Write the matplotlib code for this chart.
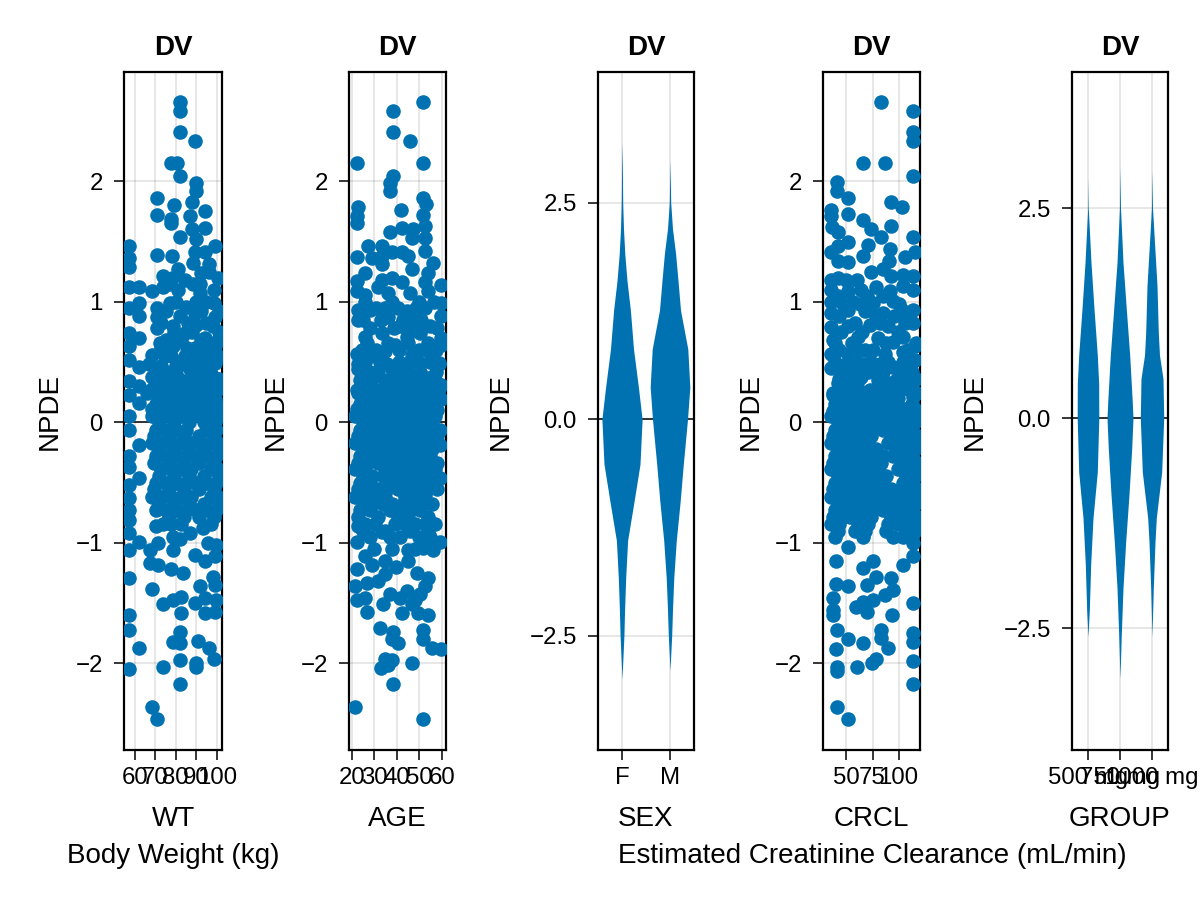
import numpy as np
import matplotlib
matplotlib.use("Agg")
import matplotlib.pyplot as plt

plt.rcParams["font.family"] = ["Liberation Sans", "DejaVu Sans"]

BLUE = "#0072B2"

# ---- scatter data: (covariate, NPDE) pairs ----
wt_pts = [
    (81.9, 2.66), (81.9, 2.58), (81.9, 2.41), (89.2, 2.33), (77.9, 2.15), (80.6, 2.15),
    (81.9, 2.04), (90.0, 1.985), (90.0, 1.92), (70.9, 1.86), (88.0, 1.83), (79.0, 1.80),
    (94.0, 1.75), (70.9, 1.72), (77.9, 1.69), (86.9, 1.71), (77.9, 1.65), (94.0, 1.61),
    (88.0, 1.60), (81.9, 1.54), (90.0, 1.52), (98.9, 1.46), (57.4, 1.46), (57.4, 1.36),
    (57.4, 1.29), (70.9, 1.39), (78.4, 1.38), (89.2, 1.41), (94.0, 1.41), (88.4, 1.32),
    (96.1, 1.31), (73.9, 1.21), (81.1, 1.27), (92.4, 1.24), (84.3, 1.18), (88.4, 1.15),
    (96.4, 1.25), (57.4, 1.12), (62.3, 1.12), (68.2, 1.09), (73.9, 1.12), (81.1, 1.10),
    (98.4, 1.10), (91.6, 1.07), (57.4, 0.95), (62.3, 0.99), (70.9, 0.95), (77.1, 0.99),
    (85.1, 0.96), (98.4, 0.99), (62.3, 0.88), (70.9, 0.87), (81.9, 0.88), (89.2, 0.91),
    (98.9, 0.87), (78.7, 0.80), (90.0, 0.81), (98.1, 0.80), (57.4, 0.74), (70.9, 0.78),
    (84.3, 0.74), (62.3, 0.70), (94.0, 0.70), (72.2, 0.66), (57.4, 0.63), (78.7, 0.63),
    (89.2, 0.62), (98.9, 0.63), (68.2, 0.56), (74.7, 0.55), (84.3, 0.55), (93.2, 0.56),
    (57.4, 0.52), (81.9, 0.49), (90.0, 0.52), (98.9, 0.49), (62.3, 0.46), (70.9, 0.44),
    (77.1, 0.42), (86.9, 0.44), (95.6, 0.42), (68.2, 0.38), (57.4, 0.34), (81.9, 0.35),
    (91.6, 0.34), (98.9, 0.37), (62.3, 0.30), (73.9, 0.31), (79.5, 0.29), (86.9, 0.30),
    (96.4, 0.29), (57.4, 0.23), (70.9, 0.23), (84.3, 0.22), (93.2, 0.23), (62.3, 0.16),
    (77.1, 0.16), (90.0, 0.17), (98.9, 0.19), (68.2, 0.11), (73.9, 0.11), (81.9, 0.11),
    (95.6, 0.11), (73.0, 0.20), (80.3, 0.20), (87.6, 0.20), (97.2, 0.20), (75.4, 0.34),
    (85.1, 0.34), (94.8, 0.34), (73.0, 0.47), (80.3, 0.47), (92.4, 0.47),
    (70.6, 0.15), (75.4, 0.15), (85.1, 0.15), (94.8, 0.15), (99.6, 0.15),
    (68.2, 0.28), (77.9, 0.28), (82.7, 0.28), (90.0, 0.28), (100.5, 0.28),
    (73.0, 0.40), (80.3, 0.40), (89.2, 0.40), (97.2, 0.40),
    (77.9, 0.55), (88.0, 0.55), (97.2, 0.55), (100.5, 0.55),
    (75.4, 0.68), (82.7, 0.68), (92.4, 0.68), (100.5, 0.68),
    (73.0, 0.82), (86.0, 0.82), (94.8, 0.82),
    (80.3, 1.00), (90.0, 1.00), (94.8, 1.00), (78.0, 1.20), (100.5, 1.20),
    (76.6, 0.10), (88.0, 0.10), (92.0, 0.10), (101.0, 0.10),
    (66.0, 0.24), (75.4, 0.24), (90.5, 0.24), (95.5, 0.24),
    (71.8, 0.36), (79.1, 0.36), (88.0, 0.36), (101.0, 0.36),
    (67.0, 0.48), (84.0, 0.48), (95.0, 0.48),
    (73.0, 0.62), (85.5, 0.62), (95.0, 0.62),
    (79.0, 0.75), (88.0, 0.75), (101.0, 0.75),
    (75.0, 0.92), (92.5, 0.92), (101.0, 0.92), (76.5, 1.15), (92.0, 1.15),
    # lower half
    (57.4, 0.05), (57.4, -0.06), (62.3, -0.19), (57.4, -0.28), (57.4, -0.37), (62.3, -0.46),
    (57.4, -0.52), (57.4, -0.63), (57.4, -0.73), (57.4, -0.81), (57.4, -0.92), (62.3, -0.99),
    (57.4, -1.06), (57.4, -1.29), (57.4, -1.60), (57.4, -1.72), (62.3, -1.87), (57.4, -2.05),
    (68.2, -1.38), (68.2, -2.36), (70.9, -2.46), (73.9, -1.51), (82.7, -1.58), (81.9, -1.74),
    (81.9, -1.83), (78.7, -1.82), (81.9, -1.97), (73.9, -2.03), (81.9, -2.17), (90.8, -1.81),
    (96.1, -1.87), (98.4, -1.96), (90.0, -2.00), (90.0, -2.03), (94.0, -1.58), (98.9, -1.57),
    (99.7, -1.47), (94.0, -1.46), (89.2, -1.50), (82.7, -1.45), (78.7, -1.47), (91.6, -1.36),
    (98.1, -1.28), (98.9, -1.35), (83.5, -1.25), (77.9, -1.22), (71.4, -1.18), (67.4, -1.17),
    (94.0, -1.15), (98.9, -1.11), (89.2, -1.10), (95.6, -1.00), (99.7, -1.02), (78.7, -1.06),
    (67.4, -1.06), (71.4, -1.00), (81.9, -0.97), (86.9, -0.92), (93.2, -0.88), (78.7, -0.95),
    (70.6, -0.86), (73.9, -0.84), (77.9, -0.84), (82.7, -0.84), (97.2, -0.84),
]

wt_dense_pts = [
    (68.2, 0.05), (73.0, 0.05), (77.9, 0.05), (82.7, 0.05), (87.6, 0.05), (92.4, 0.05),
    (97.2, 0.05), (100.5, 0.05),
    (71.8, 0.00), (79.1, 0.00), (86.4, 0.00), (93.7, 0.00), (99.0, 0.00),
    (70.6, -0.06), (75.4, -0.06), (80.3, -0.06), (85.1, -0.06), (94.8, -0.06), (99.6, -0.06),
    (69.4, -0.115), (76.6, -0.115), (84.0, -0.115), (91.2, -0.115), (98.5, -0.115),
    (68.2, -0.17), (73.0, -0.17), (77.9, -0.17), (82.7, -0.17), (87.6, -0.17), (92.4, -0.17),
    (97.2, -0.17), (100.5, -0.17),
    (71.8, -0.225), (79.1, -0.225), (86.4, -0.225), (93.7, -0.225), (101.0, -0.225),
    (70.6, -0.28), (75.4, -0.28), (80.3, -0.28), (85.1, -0.28), (90.0, -0.28), (94.8, -0.28),
    (99.6, -0.28),
    (69.4, -0.335), (76.6, -0.335), (84.0, -0.335), (91.2, -0.335), (98.5, -0.335),
    (73.0, -0.39), (77.9, -0.39), (82.7, -0.39), (87.6, -0.39), (97.2, -0.39), (100.5, -0.39),
    (71.8, -0.445), (79.1, -0.445), (86.4, -0.445), (93.7, -0.445), (101.0, -0.445),
    (70.6, -0.50), (75.4, -0.50), (80.3, -0.50), (85.1, -0.50), (90.0, -0.50), (94.8, -0.50),
    (99.6, -0.50),
    (69.4, -0.555), (76.6, -0.555), (84.0, -0.555), (91.2, -0.555), (98.5, -0.555),
    (68.2, -0.62), (73.0, -0.62), (77.9, -0.62), (82.7, -0.62), (87.6, -0.62), (97.2, -0.62),
    (100.5, -0.62),
    (71.8, -0.675), (79.1, -0.675), (86.4, -0.675), (93.7, -0.675), (101.0, -0.675),
    (70.6, -0.73), (75.4, -0.73), (80.3, -0.73), (85.1, -0.73), (90.0, -0.73), (94.8, -0.73),
    (99.6, -0.73),
    (76.6, -0.785), (84.0, -0.785), (91.2, -0.785), (98.5, -0.785),
]

age_pts = [
    (51.8, 2.66), (38.2, 2.58), (38.2, 2.41), (45.9, 2.33), (22.2, 2.15), (51.8, 2.15),
    (38.2, 2.04), (37.0, 1.985), (37.0, 1.92), (51.8, 1.86), (52.9, 1.81), (22.9, 1.79),
    (41.9, 1.76), (51.8, 1.72), (22.2, 1.71), (22.2, 1.65), (52.6, 1.63), (37.0, 1.58),
    (42.2, 1.61), (47.4, 1.60), (46.7, 1.53), (52.6, 1.53), (27.1, 1.46), (33.3, 1.46),
    (22.2, 1.37), (28.9, 1.36), (33.3, 1.38), (37.8, 1.41), (42.2, 1.41), (45.2, 1.38),
    (52.6, 1.42), (56.3, 1.32), (33.3, 1.31), (46.7, 1.27), (25.9, 1.24), (54.1, 1.24),
    (22.2, 1.17), (33.3, 1.18), (37.8, 1.20), (42.2, 1.16), (59.6, 1.14), (52.6, 1.16),
    (31.8, 1.12), (25.9, 1.06), (45.9, 1.07), (22.2, 1.09), (36.3, 1.07), (54.1, 1.09),
    (59.6, 0.99), (22.9, 0.93), (28.1, 0.93), (34.8, 0.95), (44.4, 0.92), (52.6, 0.95),
    (59.6, 0.88), (22.9, 0.85), (36.3, 0.87), (48.1, 0.87), (41.5, 0.80), (54.8, 0.80),
    (25.9, 0.71), (33.3, 0.74), (50.4, 0.74), (59.6, 0.70), (44.4, 0.71), (39.3, 0.64),
    (59.6, 0.64), (22.2, 0.57), (28.1, 0.55), (34.8, 0.59), (46.7, 0.56), (54.1, 0.59),
    (41.0, 0.50), (50.4, 0.49), (58.9, 0.49), (22.9, 0.44), (31.8, 0.42), (37.8, 0.44),
    (45.2, 0.42), (25.9, 0.35), (34.8, 0.34), (42.6, 0.35), (54.1, 0.37), (59.6, 0.31),
    (22.2, 0.27), (30.3, 0.27), (39.3, 0.27), (48.1, 0.29), (55.6, 0.26), (25.9, 0.17),
    (34.8, 0.17), (44.4, 0.17), (50.4, 0.17), (59.6, 0.19), (22.2, 0.11), (30.3, 0.11),
    (39.3, 0.11), (48.1, 0.11), (55.6, 0.11), (28.1, 0.20), (37.0, 0.20), (45.9, 0.20),
    (54.8, 0.20), (23.7, 0.35), (39.3, 0.35), (48.1, 0.35), (57.0, 0.35), (25.9, 0.50),
    (32.6, 0.50), (45.9, 0.50), (54.8, 0.50),
    (23.7, 0.15), (32.6, 0.15), (41.5, 0.15), (52.6, 0.15), (57.0, 0.15),
    (26.0, 0.28), (35.0, 0.28), (44.0, 0.28), (52.0, 0.28), (59.0, 0.28),
    (28.1, 0.42), (41.5, 0.42), (50.4, 0.42), (57.5, 0.42),
    (24.5, 0.60), (31.0, 0.60), (41.0, 0.60), (50.0, 0.60), (57.5, 0.60),
    (28.0, 0.78), (39.0, 0.78), (47.0, 0.78), (58.0, 0.78),
    (31.0, 0.95), (40.5, 0.95), (48.5, 0.95),
    (27.0, 0.10), (36.0, 0.10), (45.0, 0.10), (58.0, 0.10),
    (22.6, 0.24), (31.5, 0.24), (40.4, 0.24), (49.2, 0.24), (56.0, 0.24),
    (29.2, 0.36), (37.0, 0.36), (45.0, 0.36), (52.0, 0.36),
    (22.6, 0.48), (35.9, 0.48), (44.0, 0.48), (59.0, 0.48),
    (27.0, 0.66), (36.0, 0.66), (45.0, 0.66), (53.7, 0.66),
    (25.0, 0.85), (33.0, 0.85), (43.0, 0.85), (51.0, 0.85),
    (26.0, 1.00), (38.0, 1.00), (50.0, 1.00), (56.5, 1.00),
    # lower half
    (59.2, -0.19), (59.2, -0.46), (59.2, -0.99), (56.3, -1.06), (51.8, -1.04), (45.2, -1.06),
    (33.3, -0.91), (22.9, -0.86), (22.2, -0.99), (25.9, -1.11), (28.9, -1.18), (34.8, -1.15),
    (39.9, -1.20), (45.2, -1.15), (22.2, -1.22), (48.9, -1.25), (54.1, -1.29), (34.8, -1.26),
    (31.8, -1.32), (26.6, -1.33), (21.5, -1.36), (52.6, -1.36), (44.4, -1.40), (37.0, -1.42),
    (50.4, -1.42), (22.2, -1.47), (25.9, -1.46), (41.5, -1.46), (48.1, -1.47), (34.1, -1.51),
    (46.7, -1.51), (26.6, -1.57), (42.2, -1.58), (49.6, -1.58), (54.1, -1.60), (32.6, -1.71),
    (38.5, -1.74), (51.8, -1.72), (37.8, -1.80), (40.5, -1.83), (51.8, -1.80), (55.6, -1.87),
    (59.7, -1.88), (34.8, -1.96), (37.8, -1.97), (33.0, -2.04), (36.3, -2.01), (46.7, -2.00),
    (38.2, -2.17), (21.5, -2.36), (51.8, -2.46),
    (26.0, -0.84), (30.4, -0.84), (39.3, -0.84), (43.7, -0.84), (48.1, -0.84), (52.6, -0.84),
    (57.0, -0.84), (28.0, -0.95), (37.0, -0.95), (41.5, -0.95), (50.0, -0.95), (55.0, -0.95),
    (25.0, -0.90), (35.0, -0.90), (46.0, -0.90), (53.7, -0.90),
    (30.0, -1.05), (38.0, -1.05), (48.0, -1.05),
]

age_dense_pts = [
    (21.5, 0.05), (25.9, 0.05), (30.4, 0.05), (34.8, 0.05), (39.3, 0.05), (43.7, 0.05),
    (48.1, 0.05), (52.6, 0.05), (57.0, 0.05),
    (24.8, 0.0), (29.2, 0.0), (33.7, 0.0), (38.1, 0.0), (42.6, 0.0), (47.0, 0.0), (51.5, 0.0),
    (55.9, 0.0),
    (23.7, -0.06), (28.1, -0.06), (32.6, -0.06), (37.0, -0.06), (41.5, -0.06), (45.9, -0.06),
    (50.4, -0.06), (54.8, -0.06), (59.2, -0.06),
    (22.6, -0.115), (27.0, -0.115), (31.5, -0.115), (35.9, -0.115), (40.4, -0.115),
    (44.8, -0.115), (49.2, -0.115), (53.7, -0.115), (58.1, -0.115),
    (21.5, -0.17), (25.9, -0.17), (30.4, -0.17), (34.8, -0.17), (39.3, -0.17), (43.7, -0.17),
    (48.1, -0.17), (52.6, -0.17), (57.0, -0.17),
    (24.8, -0.225), (29.2, -0.225), (33.7, -0.225), (38.1, -0.225), (42.6, -0.225),
    (47.0, -0.225), (51.5, -0.225), (55.9, -0.225),
    (23.7, -0.28), (28.1, -0.28), (32.6, -0.28), (37.0, -0.28), (41.5, -0.28), (45.9, -0.28),
    (50.4, -0.28), (54.8, -0.28),
    (22.6, -0.335), (27.0, -0.335), (31.5, -0.335), (35.9, -0.335), (40.4, -0.335),
    (44.8, -0.335), (49.2, -0.335), (53.7, -0.335), (58.1, -0.335),
    (21.5, -0.39), (25.9, -0.39), (34.8, -0.39), (39.3, -0.39), (43.7, -0.39), (48.1, -0.39),
    (52.6, -0.39), (57.0, -0.39),
    (24.8, -0.445), (29.2, -0.445), (33.7, -0.445), (38.1, -0.445), (42.6, -0.445),
    (47.0, -0.445), (51.5, -0.445), (55.9, -0.445),
    (23.7, -0.50), (28.1, -0.50), (37.0, -0.50), (41.5, -0.50), (45.9, -0.50), (50.4, -0.50),
    (54.8, -0.50),
    (22.6, -0.555), (27.0, -0.555), (31.5, -0.555), (35.9, -0.555), (40.4, -0.555),
    (44.8, -0.555), (49.2, -0.555), (53.7, -0.555), (58.1, -0.555),
    (21.5, -0.62), (25.9, -0.62), (30.4, -0.62), (34.8, -0.62), (43.7, -0.62), (48.1, -0.62),
    (52.6, -0.62),
    (24.8, -0.675), (29.2, -0.675), (33.7, -0.675), (38.1, -0.675), (42.6, -0.675),
    (47.0, -0.675), (51.5, -0.675), (55.9, -0.675),
    (23.7, -0.73), (28.1, -0.73), (37.0, -0.73), (41.5, -0.73), (45.9, -0.73), (50.4, -0.73),
    (22.6, -0.785), (31.5, -0.785), (40.4, -0.785), (44.8, -0.785), (53.7, -0.785),
]

crcl_pts = [
    (83.5, 2.66), (114.2, 2.58), (114.2, 2.41), (114.2, 2.33), (65.8, 2.15), (87.4, 2.15),
    (114.2, 2.04), (40.9, 1.99), (40.9, 1.92), (51.9, 1.86), (92.6, 1.83), (103.6, 1.79),
    (35.1, 1.76), (35.1, 1.71), (51.9, 1.73), (65.8, 1.68), (73.9, 1.60), (92.6, 1.63),
    (35.8, 1.62), (41.5, 1.58), (83.5, 1.54), (114.2, 1.54), (51.9, 1.50), (70.7, 1.47),
    (41.5, 1.46), (91.9, 1.44), (35.1, 1.41), (65.8, 1.38), (115.8, 1.41), (106.2, 1.37),
    (41.5, 1.34), (51.3, 1.33), (90.9, 1.34), (73.9, 1.25), (85.2, 1.27), (35.1, 1.18),
    (41.5, 1.20), (49.6, 1.18), (60.3, 1.18), (92.9, 1.21), (104.2, 1.22), (114.2, 1.21),
    (35.1, 1.10), (51.3, 1.09), (64.2, 1.10), (78.7, 1.12), (91.6, 1.09), (114.2, 1.10),
    (104.2, 1.13), (35.1, 1.00), (55.9, 1.00), (75.5, 0.99), (94.9, 1.01), (114.2, 0.93),
    (35.1, 0.91), (51.3, 0.93), (67.4, 0.92), (85.2, 0.91), (103.2, 0.93), (35.1, 0.79),
    (51.3, 0.80), (72.3, 0.81), (90.0, 0.80), (114.2, 0.82), (104.2, 0.71), (36.8, 0.68),
    (60.8, 0.71), (80.2, 0.70), (94.9, 0.67), (115.8, 0.63), (35.1, 0.57), (51.3, 0.57),
    (67.4, 0.60), (86.8, 0.57), (104.2, 0.58), (60.8, 0.49), (73.9, 0.50), (115.8, 0.52),
    (35.1, 0.45), (46.4, 0.42), (94.9, 0.46), (104.2, 0.42), (64.2, 0.38), (80.2, 0.40),
    (114.2, 0.35), (41.5, 0.33), (54.3, 0.31), (91.6, 0.33), (72.3, 0.27), (103.2, 0.29),
    (36.8, 0.23), (60.8, 0.20), (85.2, 0.23), (114.2, 0.21), (48.0, 0.16), (75.5, 0.15),
    (95.5, 0.16), (36.8, 0.09), (60.8, 0.11), (86.8, 0.11), (106.2, 0.11), (43.2, 0.20),
    (70.7, 0.20), (99.7, 0.20), (51.3, 0.35), (80.3, 0.35), (109.4, 0.35), (39.1, 0.50),
    (90.0, 0.50), (104.5, 0.50),
    (39.1, 0.15), (56.1, 0.15), (65.8, 0.15), (85.2, 0.15), (113.0, 0.15),
    (47.2, 0.28), (61.0, 0.28), (80.3, 0.28), (94.9, 0.28), (109.4, 0.28),
    (56.1, 0.42), (70.7, 0.42), (85.2, 0.42), (113.0, 0.42),
    (43.2, 0.60), (61.0, 0.60), (75.5, 0.60), (109.4, 0.60),
    (45.0, 0.75), (65.0, 0.75), (99.7, 0.75),
    (43.0, 0.88), (78.0, 0.88), (96.0, 0.88), (110.0, 0.88),
    (42.0, 1.05), (70.0, 1.05), (85.0, 1.05),
    (45.0, 0.10), (68.0, 0.10), (80.0, 0.10), (100.0, 0.10), (117.0, 0.10),
    (37.5, 0.24), (55.0, 0.24), (75.0, 0.24), (90.0, 0.24), (118.0, 0.24),
    (43.0, 0.36), (62.0, 0.36), (98.0, 0.36), (117.0, 0.36),
    (50.0, 0.48), (66.0, 0.48), (82.0, 0.48), (112.0, 0.48),
    (39.0, 0.66), (55.0, 0.66), (88.0, 0.66), (117.0, 0.66),
    (58.0, 0.82), (82.0, 0.82), (106.0, 0.82),
    (47.0, 0.98), (63.0, 0.98), (100.0, 0.98),
    # lower half
    (39.9, -1.15), (51.9, -1.03), (75.5, -1.15), (65.8, -1.21), (104.2, -1.18), (114.2, -1.11),
    (114.2, -1.00), (39.9, -1.34), (51.9, -1.36), (70.0, -1.35), (78.7, -1.28), (92.6, -1.29),
    (94.9, -1.39), (86.8, -1.43), (36.8, -1.46), (75.5, -1.47), (65.8, -1.49), (59.3, -1.53),
    (70.0, -1.57), (36.8, -1.56), (36.8, -1.60), (114.2, -1.50), (93.2, -1.60), (41.2, -1.72),
    (51.9, -1.80), (65.8, -1.83), (83.5, -1.72), (83.5, -1.79), (89.9, -1.87), (114.2, -1.75),
    (114.2, -1.82), (39.9, -1.88), (78.7, -1.96), (74.5, -2.00), (114.2, -1.98), (41.2, -2.03),
    (41.2, -2.06), (60.3, -2.03), (114.2, -2.17), (41.2, -2.36), (51.9, -2.46),
]

crcl_dense_pts = [
    (35.1, 0.05), (43.2, 0.05), (51.3, 0.05), (61.0, 0.05), (70.7, 0.05), (80.3, 0.05),
    (90.0, 0.05), (99.7, 0.05), (109.4, 0.05), (116.5, 0.05),
    (41.5, 0.0), (49.6, 0.0), (58.5, 0.0), (68.2, 0.0), (77.9, 0.0), (87.6, 0.0), (97.3, 0.0),
    (106.9, 0.0), (115.4, 0.0),
    (39.1, -0.06), (47.2, -0.06), (56.1, -0.06), (65.8, -0.06), (75.5, -0.06), (85.2, -0.06),
    (94.9, -0.06), (104.5, -0.06), (113.0, -0.06),
    (37.5, -0.115), (45.6, -0.115), (53.7, -0.115), (63.4, -0.115), (73.1, -0.115),
    (92.4, -0.115), (102.1, -0.115), (111.8, -0.115), (118.5, -0.115),
    (35.1, -0.17), (43.2, -0.17), (51.3, -0.17), (61.0, -0.17), (70.7, -0.17), (90.0, -0.17),
    (99.7, -0.17), (109.4, -0.17), (116.5, -0.17),
    (41.5, -0.225), (49.6, -0.225), (58.5, -0.225), (68.2, -0.225), (77.9, -0.225),
    (97.3, -0.225), (106.9, -0.225), (115.4, -0.225),
    (39.1, -0.28), (47.2, -0.28), (56.1, -0.28), (65.8, -0.28), (75.5, -0.28), (85.2, -0.28),
    (94.9, -0.28), (104.5, -0.28), (113.0, -0.28),
    (37.5, -0.335), (45.6, -0.335), (53.7, -0.335), (63.4, -0.335), (73.1, -0.335),
    (82.7, -0.335), (102.1, -0.335), (111.8, -0.335), (118.5, -0.335),
    (35.1, -0.39), (43.2, -0.39), (51.3, -0.39), (61.0, -0.39), (70.7, -0.39), (80.3, -0.39),
    (99.7, -0.39), (109.4, -0.39), (116.5, -0.39),
    (41.5, -0.445), (49.6, -0.445), (58.5, -0.445), (68.2, -0.445), (77.9, -0.445),
    (87.6, -0.445), (106.9, -0.445), (115.4, -0.445),
    (39.1, -0.50), (47.2, -0.50), (56.1, -0.50), (65.8, -0.50), (75.5, -0.50), (85.2, -0.50),
    (104.5, -0.50), (113.0, -0.50),
    (37.5, -0.555), (45.6, -0.555), (53.7, -0.555), (63.4, -0.555), (73.1, -0.555),
    (82.7, -0.555), (92.4, -0.555), (102.1, -0.555), (111.8, -0.555), (118.5, -0.555),
    (35.1, -0.62), (43.2, -0.62), (51.3, -0.62), (61.0, -0.62), (70.7, -0.62), (80.3, -0.62),
    (90.0, -0.62), (99.7, -0.62), (109.4, -0.62), (116.5, -0.62),
    (41.5, -0.675), (49.6, -0.675), (58.5, -0.675), (68.2, -0.675), (77.9, -0.675),
    (87.6, -0.675), (97.3, -0.675), (106.9, -0.675), (115.4, -0.675),
    (39.1, -0.73), (47.2, -0.73), (56.1, -0.73), (65.8, -0.73), (75.5, -0.73), (85.2, -0.73),
    (94.9, -0.73), (104.5, -0.73), (113.0, -0.73),
    (37.5, -0.785), (45.6, -0.785), (53.7, -0.785), (63.4, -0.785), (73.1, -0.785),
    (92.4, -0.785), (102.1, -0.785), (111.8, -0.785), (118.5, -0.785),
    (35.1, -0.84), (43.2, -0.84), (61.0, -0.84), (70.7, -0.84), (90.0, -0.84), (99.7, -0.84),
    (109.4, -0.84), (116.5, -0.84),
    (41.5, -0.90), (58.5, -0.90), (68.2, -0.90), (87.6, -0.90), (106.9, -0.90), (115.4, -0.90),
    (39.1, -0.95), (65.8, -0.95), (94.9, -0.95), (104.5, -0.95), (113.0, -0.95),
]

# ---- violin outlines: NPDE level and half width (in category units) ----
sex_cats = ["F", "M"]
sex_levels = [
    [3.2, 2.9, 2.5, 2.2, 1.91, 1.6, 1.26, 0.81, 0.37, 0.0, -0.52, -0.96, -1.4, -1.83, -2.2, -2.5, -3.0],
    [3.0, 2.5, 2.2, 1.91, 1.6, 1.26, 0.81, 0.37, 0.0, -0.52, -0.96, -1.4, -1.83, -2.2, -2.5, -2.9],
]
sex_halfw = [
    [0.0, 0.008, 0.015, 0.031, 0.058, 0.104, 0.175, 0.240, 0.342, 0.419, 0.375, 0.248, 0.117,
     0.077, 0.054, 0.040, 0.0],
    [0.0, 0.015, 0.052, 0.117, 0.167, 0.219, 0.371, 0.413, 0.365, 0.277, 0.210, 0.131, 0.079,
     0.052, 0.035, 0.0],
]

group_cats = ["500 mg", "750 mg", "1000 mg"]
group_levels = [
    [2.85, 2.5, 1.85, 1.30, 0.75, 0.41, 0.0, -0.64, -1.19, -1.74, -2.29, -2.6],
    [3.0, 2.5, 1.85, 1.30, 0.75, 0.19, 0.0, -0.36, -0.91, -1.47, -2.02, -2.57, -3.1],
    [2.95, 2.5, 2.13, 1.58, 1.02, 0.75, 0.47, 0.0, -0.64, -1.19, -1.47, -2.02, -2.6],
]
group_halfw = [
    [0.0, 0.009, 0.094, 0.188, 0.291, 0.334, 0.338, 0.291, 0.156, 0.084, 0.041, 0.0],
    [0.0, 0.016, 0.094, 0.197, 0.303, 0.384, 0.406, 0.366, 0.281, 0.178, 0.094, 0.041, 0.0],
    [0.0, 0.016, 0.072, 0.156, 0.197, 0.234, 0.344, 0.366, 0.303, 0.134, 0.094, 0.041, 0.0],
]

FS_TICK = 17.3
FS_LABEL = 20
MS = 110
W, H = 1200, 900


def make_axes(fig, left_px, width_px):
    return fig.add_axes([left_px / W, 150 / H, width_px / W, 678 / H])


def style(ax, xticks, xticklabels, xlim, yticks, yticklabels, ylim, xlabel, ylab_x):
    ax.set_xlim(*xlim)
    ax.set_ylim(*ylim)
    ax.set_xticks(xticks)
    ax.set_xticklabels(xticklabels)
    ax.set_yticks(yticks)
    ax.set_yticklabels(yticklabels)
    ax.grid(True, color="black", alpha=0.12, linewidth=1.1, zorder=0)
    ax.set_axisbelow(True)
    ax.axhline(0, color="black", linewidth=1.1, zorder=1)
    ax.tick_params(axis="both", direction="out", length=7.2, width=1.1, labelsize=FS_TICK)
    ax.tick_params(axis="x", pad=5)
    ax.tick_params(axis="y", pad=8)
    for sp in ax.spines.values():
        sp.set_linewidth(1.6)
    ax.set_title("DV", fontsize=FS_LABEL, fontweight="bold", pad=12)
    ax.set_xlabel(xlabel, fontsize=FS_LABEL)
    ax.xaxis.set_label_coords(0.5, -0.082)
    ax.set_ylabel("NPDE", fontsize=FS_LABEL)
    ax.yaxis.set_label_coords(ylab_x, 0.5)


def scatter_panel(ax, pts, dense):
    x, y = np.array(pts + dense).T
    ax.scatter(x, y, s=MS, color=BLUE, linewidths=0, zorder=3)


def violin_panel(ax, levels, halfw):
    for i, (lv, hw) in enumerate(zip(levels, halfw)):
        lv = np.array(lv)
        hw = np.array(hw)
        ax.fill_betweenx(lv, i + 1 - hw, i + 1 + hw, color=BLUE, linewidth=0, zorder=3)


fig = plt.figure(figsize=(12, 9), dpi=100)

int_ticks = [-2, -1, 0, 1, 2]
int_labels = ["\u22122", "\u22121", "0", "1", "2"]
npde_lim = (-2.718, 2.906)
half_ticks = [-2.5, 0, 2.5]
half_labels = ["\u22122.5", "0.0", "2.5"]

ax1 = make_axes(fig, 124, 98)
scatter_panel(ax1, wt_pts, wt_dense_pts)
style(ax1, [60, 70, 80, 90, 100], ["60", "70", "80", "90", "100"], (54.8, 102.5),
      int_ticks, int_labels, npde_lim, "WT", -0.62)

ax2 = make_axes(fig, 349, 97)
scatter_panel(ax2, age_pts, age_dense_pts)
style(ax2, [20, 30, 40, 50, 60], ["20", "30", "40", "50", "60"], (18.8, 61.9),
      int_ticks, int_labels, npde_lim, "AGE", -0.62)

ax3 = make_axes(fig, 598, 96)
violin_panel(ax3, sex_levels, sex_halfw)
style(ax3, [1, 2], sex_cats, (0.5, 2.5), half_ticks, half_labels,
      (-3.82, 4.01), "SEX", -0.875)

ax4 = make_axes(fig, 823, 97)
scatter_panel(ax4, crcl_pts, crcl_dense_pts)
style(ax4, [50, 75, 100], ["50", "75", "100"], (27.5, 120.5),
      int_ticks, int_labels, npde_lim, "CRCL", -0.61)

ax5 = make_axes(fig, 1072, 96)
violin_panel(ax5, group_levels, group_halfw)
style(ax5, [1, 2, 3], group_cats, (0.5, 3.5), half_ticks, half_labels,
      (-3.95, 4.12), "GROUP", -0.875)

fig.text(173 / W, 1 - 856 / H, "Body Weight (kg)", fontsize=FS_LABEL, ha="center", va="center")
fig.text(872 / W, 1 - 856 / H, "Estimated Creatinine Clearance (mL/min)", fontsize=FS_LABEL,
         ha="center", va="center")

fig.savefig("out.png", dpi=100)
